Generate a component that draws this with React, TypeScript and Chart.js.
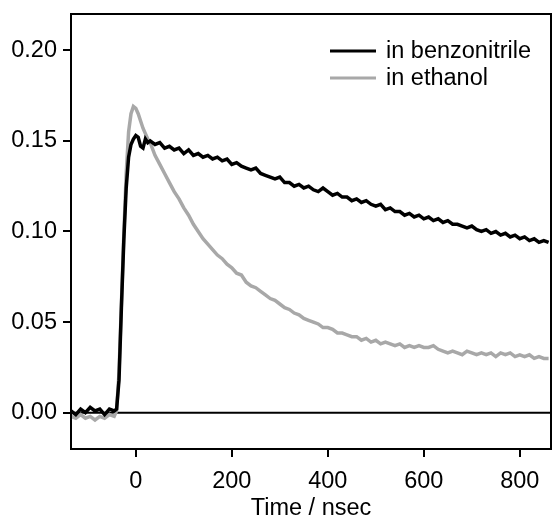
import React, { useEffect, useRef } from "react";
import { Chart, registerables } from "chart.js";

Chart.register(...registerables);

const times = [
  -135, -125, -115, -105, -95, -85, -75, -65, -55, -45,
  -40, -35, -30, -25, -20, -15, -10, -5, 0, 5, 10, 15, 20, 25, 30,
  40, 50, 60, 70, 80, 90, 100, 110, 120, 130, 140, 150, 160, 170, 180, 190,
  200, 210, 220, 230, 240, 250, 260, 270, 280, 290, 300, 310, 320, 330, 340,
  350, 360, 370, 380, 390, 400, 410, 420, 430, 440, 450, 460, 470, 480, 490,
  500, 510, 520, 530, 540, 550, 560, 570, 580, 590, 600, 610, 620, 630, 640,
  650, 660, 670, 680, 690, 700, 710, 720, 730, 740, 750, 760, 770, 780, 790,
  800, 810, 820, 830, 840, 850, 860,
];

const benzonitrile = [
  0.001, -0.001, 0.002, 0.0, 0.003, 0.001, 0.002, -0.001, 0.002, 0.001,
  0.002, 0.018, 0.058, 0.095, 0.124, 0.141, 0.148, 0.151, 0.153, 0.152, 0.147, 0.146, 0.151, 0.149, 0.15,
  0.148, 0.149, 0.146, 0.147, 0.145, 0.146, 0.143, 0.145, 0.142, 0.143, 0.141, 0.142, 0.14, 0.141, 0.139, 0.14,
  0.137, 0.138, 0.136, 0.135, 0.134, 0.135, 0.132, 0.131, 0.13, 0.129, 0.13, 0.127, 0.127, 0.125, 0.126,
  0.124, 0.125, 0.123, 0.122, 0.124, 0.122, 0.12, 0.121, 0.119, 0.119, 0.117, 0.118, 0.116, 0.117, 0.115,
  0.114, 0.115, 0.112, 0.113, 0.111, 0.111, 0.109, 0.11, 0.108, 0.109, 0.107, 0.108, 0.106, 0.107, 0.105,
  0.106, 0.104, 0.104, 0.103, 0.102, 0.103, 0.101, 0.1, 0.101, 0.099, 0.1, 0.098, 0.099, 0.097, 0.098,
  0.096, 0.097, 0.095, 0.096, 0.094, 0.095, 0.094,
];

const ethanol = [
  -0.002, -0.003, -0.001, -0.003, -0.002, -0.004, -0.002, -0.003, -0.001, -0.002,
  0.001, 0.022, 0.06, 0.098, 0.132, 0.155, 0.165, 0.169, 0.168, 0.165, 0.161, 0.157, 0.154, 0.151, 0.149,
  0.142, 0.137, 0.132, 0.127, 0.122, 0.118, 0.113, 0.109, 0.104, 0.1, 0.096, 0.093, 0.09, 0.087, 0.085, 0.082,
  0.08, 0.077, 0.076, 0.072, 0.07, 0.069, 0.067, 0.065, 0.063, 0.062, 0.06, 0.058, 0.057, 0.055, 0.054,
  0.052, 0.051, 0.05, 0.049, 0.047, 0.047, 0.046, 0.044, 0.044, 0.043, 0.042, 0.042, 0.04, 0.041, 0.039,
  0.04, 0.038, 0.039, 0.038, 0.037, 0.038, 0.036, 0.037, 0.036, 0.037, 0.036, 0.036, 0.037, 0.035, 0.034,
  0.033, 0.034, 0.033, 0.032, 0.034, 0.033, 0.032, 0.033, 0.032, 0.033, 0.031, 0.033, 0.032, 0.033, 0.031,
  0.032, 0.031, 0.032, 0.03, 0.031, 0.03, 0.03,
];

const seriesLabels = ["in benzonitrile", "in ethanol"];
const seriesColors = ["#000000", "#a8a8a8"];
const xTicks = [0, 200, 400, 600, 800];
const yTicks = [0, 0.05, 0.1, 0.15, 0.2];
const xTitle = "Time / nsec";

const FONT_FAMILY = "'Liberation Sans', Arial, sans-serif";
const FONT_SIZE = 23.5;

const framePlugin = {
  id: "frameAndZero",
  beforeDatasetsDraw(chart: any) {
    const { ctx, chartArea, scales } = chart;
    const y0 = scales.y.getPixelForValue(0);
    ctx.save();
    ctx.strokeStyle = "#000";
    ctx.lineWidth = 2;
    ctx.beginPath();
    ctx.moveTo(chartArea.left, y0);
    ctx.lineTo(chartArea.right, y0);
    ctx.stroke();
    ctx.restore();
  },
  afterDraw(chart: any) {
    const { ctx, chartArea } = chart;
    ctx.save();
    ctx.strokeStyle = "#000";
    ctx.lineWidth = 2;
    ctx.strokeRect(
      chartArea.left,
      chartArea.top,
      chartArea.right - chartArea.left,
      chartArea.bottom - chartArea.top
    );
    // legend
    ctx.font = `${FONT_SIZE}px ${FONT_FAMILY}`;
    ctx.textBaseline = "middle";
    ctx.textAlign = "left";
    const rows = [51, 78];
    seriesLabels.forEach((label, i) => {
      ctx.strokeStyle = seriesColors[i];
      ctx.lineWidth = 3;
      ctx.beginPath();
      ctx.moveTo(330, rows[i]);
      ctx.lineTo(376, rows[i]);
      ctx.stroke();
      ctx.fillStyle = "#000";
      ctx.fillText(label, 386, rows[i] + 1);
    });
    ctx.restore();
  },
};

export default function App() {
  const canvasRef = useRef<HTMLCanvasElement | null>(null);

  useEffect(() => {
    document.body.style.margin = "0";
    const canvas = canvasRef.current;
    if (!canvas) return;
    const font = { family: FONT_FAMILY, size: FONT_SIZE };
    const seriesData = [benzonitrile, ethanol];
    const chart = new Chart(canvas, {
      type: "line",
      data: {
        datasets: seriesData.map((vals, i) => ({
          label: seriesLabels[i],
          data: times.map((t, j) => ({ x: t, y: vals[j] })),
          borderColor: seriesColors[i],
          borderWidth: 3.5,
          pointRadius: 0,
          tension: 0,
          fill: false,
        })),
      },
      options: {
        responsive: false,
        animation: false,
        devicePixelRatio: 1,
        layout: { padding: { top: 14, right: 1, left: 0, bottom: 0 } },
        plugins: { legend: { display: false }, tooltip: { enabled: false } },
        scales: {
          x: {
            type: "linear",
            min: -135,
            max: 865,
            afterBuildTicks: (s: any) => {
              s.ticks = xTicks.map((v) => ({ value: v }));
            },
            afterFit: (s: any) => {
              s.height = 68;
              s.paddingLeft = 0;
              s.paddingRight = 0;
            },
            grid: {
              display: true,
              drawOnChartArea: false,
              drawTicks: true,
              tickLength: 8,
              color: "#000",
              lineWidth: 2,
            },
            border: { display: false },
            ticks: {
              font,
              color: "#000",
              padding: 10,
              maxRotation: 0,
              autoSkip: false,
              callback: (v: any) => String(v),
            },
            title: {
              display: true,
              text: xTitle,
              font,
              color: "#000",
              padding: { top: 0, bottom: -6 },
            },
          },
          y: {
            type: "linear",
            min: -0.02,
            max: 0.22,
            afterBuildTicks: (s: any) => {
              s.ticks = yTicks.map((v) => ({ value: v }));
            },
            afterFit: (s: any) => {
              s.width = 71;
              s.paddingTop = 0;
              s.paddingBottom = 0;
            },
            grid: {
              display: true,
              drawOnChartArea: false,
              drawTicks: true,
              tickLength: 8,
              color: "#000",
              lineWidth: 2,
            },
            border: { display: false },
            ticks: {
              font,
              color: "#000",
              padding: 6,
              autoSkip: false,
              callback: (v: any) => Number(v).toFixed(2),
            },
          },
        },
      },
      plugins: [framePlugin],
    });
    return () => chart.destroy();
  }, []);

  return (
    <div style={{ width: 552, height: 517 }}>
      <canvas ref={canvasRef} width={552} height={517} style={{ display: "block" }} />
    </div>
  );
}
